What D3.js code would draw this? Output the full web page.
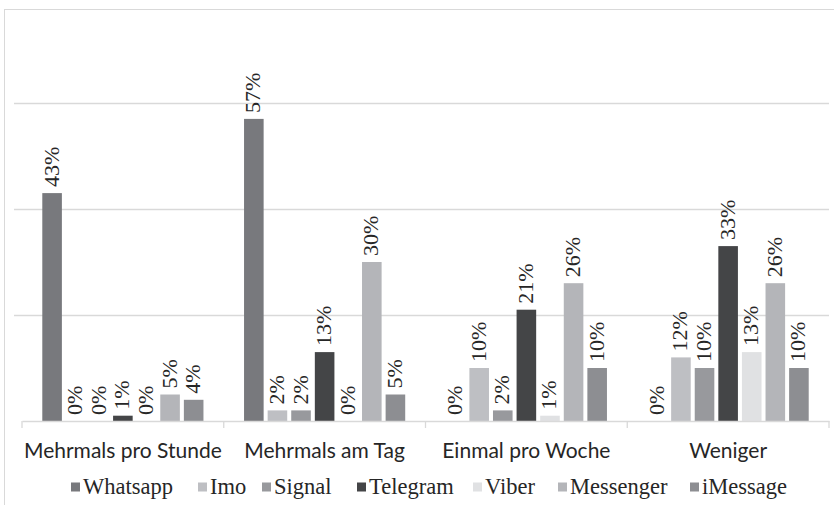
<!DOCTYPE html>
<html>
<head>
<meta charset="utf-8">
<script src="https://cdn.jsdelivr.net/npm/d3@7"></script>
<style>
  body { margin: 0; background: #fff; }
  svg { display: block; }
  .serif { font-family: "Liberation Serif", "Times New Roman", serif; }
  .sans { font-family: Lato, "Open Sans", sans-serif; }
</style>
</head>
<body>
<svg id="chart"></svg>
<script>
// data
const categories = ['Mehrmals pro Stunde', 'Mehrmals am Tag', 'Einmal pro Woche', 'Weniger'];
const series = ['Whatsapp', 'Imo', 'Signal', 'Telegram', 'Viber', 'Messenger', 'iMessage'];
const whatsapp  = [43, 57, 0, 0];
const imo       = [0, 2, 10, 12];
const signal    = [0, 2, 2, 10];
const telegram  = [1, 13, 21, 33];
const viber     = [0, 0, 1, 13];
const messenger = [5, 30, 26, 26];
const imessage  = [4, 5, 10, 10];
const gridTicks = [0, 20, 40, 60];

const values = [whatsapp, imo, signal, telegram, viber, messenger, imessage];
const colors = ['#78797d', '#bebfc3', '#98999d', '#444547', '#e0e1e3', '#b4b5b9', '#8d8e92'];

const W = 834, H = 505;
const margin = { top: 103, left: 22, right: 5, bottom: 84 };

const svg = d3.select('#chart').attr('width', W).attr('height', H);

// frame
svg.append('rect')
    .attr('x', 4.5).attr('y', 9.5)
    .attr('width', W + 10).attr('height', H + 10)
    .attr('fill', 'none').attr('stroke', '#d9d9d9');

const x0 = d3.scaleBand().domain(categories).range([margin.left, W - margin.right]);
const x1 = d3.scaleBand().domain(series).range([0, x0.bandwidth()])
    .paddingInner(0.17).paddingOuter(0.86);
const y = d3.scaleLinear().domain([0, 60]).range([H - margin.bottom, margin.top]);
const color = d3.scaleOrdinal().domain(series).range(colors);

// gridlines
svg.append('g')
    .selectAll('line')
    .data(gridTicks.slice(1))
    .join('line')
    .attr('x1', 14).attr('x2', W - margin.right)
    .attr('y1', d => Math.round(y(d)) + 0.5).attr('y2', d => Math.round(y(d)) + 0.5)
    .attr('stroke', '#d9d9d9').attr('stroke-width', 1.3);

const rows = categories.map((c, ci) => ({
    cat: c,
    bars: series.map((s, si) => ({ cat: c, s, v: values[si][ci] }))
}));

const groups = svg.append('g')
    .selectAll('g')
    .data(rows)
    .join('g')
    .attr('transform', d => `translate(${x0(d.cat)},0)`);

groups.selectAll('rect')
    .data(d => d.bars)
    .join('rect')
    .attr('x', d => x1(d.s))
    .attr('width', x1.bandwidth())
    .attr('y', d => y(d.v))
    .attr('height', d => y(0) - y(d.v))
    .attr('fill', d => color(d.s));

/** value labels, rotated */
groups.selectAll('text')
    .data(d => d.bars)
    .join('text')
    .attr('class', 'serif')
    .attr('transform', d => `translate(${x1(d.s) + x1.bandwidth() / 2 - 1},${y(d.v) - 6}) rotate(-90)`)
    .attr('dominant-baseline', 'central')
    .style('font-size', '22px')
    .attr('fill', '#262626')
    .text(d => d.v + '%');

// x axis
const axis = svg.append('g')
    .attr('transform', `translate(0,${y(0)})`)
    .call(d3.axisBottom(x0).tickSize(0).tickPadding(22));
axis.select('.domain').attr('stroke', '#d9d9d9').attr('stroke-width', 1.3);
axis.selectAll('.tick text')
    .attr('class', 'sans')
    .style('font-size', '21px')
    .attr('fill', '#262626');

// category separators
svg.append('g')
    .selectAll('line')
    .data(categories.map(c => x0(c)).concat([x0.range()[1]]))
    .join('line')
    .attr('x1', d => d).attr('x2', d => d)
    .attr('y1', y(0)).attr('y2', y(0) + 7)
    .attr('stroke', '#d9d9d9').attr('stroke-width', 1.3);

// legend
const legendX = [71, 198, 262, 357, 473, 558, 690];
const legend = svg.append('g')
    .selectAll('g')
    .data(series)
    .join('g')
    .attr('transform', (d, i) => `translate(${legendX[i]},487)`);
legend.append('rect')
    .attr('x', 0).attr('y', -4.5)
    .attr('width', 9).attr('height', 9)
    .attr('fill', d => color(d));
legend.append('text')
    .attr('class', 'serif')
    .attr('x', 12).attr('y', 7)
    .style('font-size', '22.5px')
    .attr('fill', '#262626')
    .text(d => d);
</script>
</body>
</html>
